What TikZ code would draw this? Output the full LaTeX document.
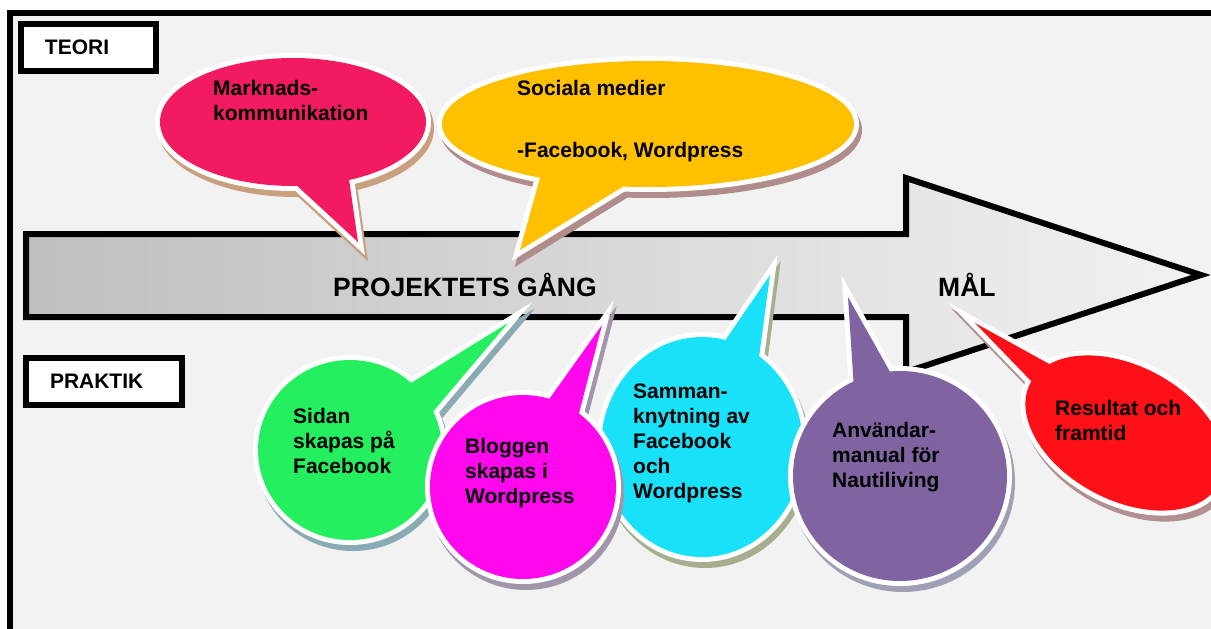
\documentclass[tikz,border=0pt]{standalone}
\usepackage{fontspec}
\setmainfont{Liberation Sans}
\usetikzlibrary{positioning, calc}

\definecolor{bggray}{HTML}{F2F2F2}
\definecolor{pinkfill}{HTML}{F31B5F}
\definecolor{pinkshadow}{HTML}{C8A07E}
\definecolor{yellowfill}{HTML}{FFC000}
\definecolor{yellowshadow}{HTML}{B08C8C}
\definecolor{greenfill}{HTML}{23EF5F}
\definecolor{greenshadow}{HTML}{8AAAB4}
\definecolor{magentafill}{HTML}{FF08EE}
\definecolor{magentashadow}{HTML}{A096AA}
\definecolor{cyanfill}{HTML}{19E1F9}
\definecolor{cyanshadow}{HTML}{A6AE90}
\definecolor{purplefill}{HTML}{8064A2}
\definecolor{purpleshadow}{HTML}{A0A0B4}
\definecolor{redfill}{HTML}{FF0F17}
\definecolor{redshadow}{HTML}{B09090}

% #1 fill, #2 shadow, #3 centre, #4 radii, #5 tilt, #6 tail
\newcommand{\speechbubble}[6]{%
    \begin{scope}[shift={(3,6)}]
        \filldraw[#2, line width=10pt, rotate around={#5:#3}] #3 ellipse [#4];
        \filldraw[#2, line width=10pt] #6 -- cycle;
    \end{scope}
    \draw[white, line width=10pt, rotate around={#5:#3}] #3 ellipse [#4];
    \draw[white, line width=10pt] #6 -- cycle;
    \fill[#1, rotate around={#5:#3}] #3 ellipse [#4];
    \fill[#1] #6 -- cycle;
}

\begin{document}
\begin{tikzpicture}[x=1pt, y=-1pt]
    \tikzstyle{labelbox} = [draw=black, line width=6pt, fill=white, inner xsep=24pt, inner ysep=0pt, minimum height=47pt, align=left, anchor=north west, font=\fontsize{21}{24}\selectfont\bfseries]
    \tikzstyle{bubbletext} = [anchor=north west, inner sep=0pt, align=left, font=\fontsize{21}{24.8}\selectfont\bfseries]
    \tikzstyle{arrowtext} = [anchor=base west, inner sep=0pt, font=\fontsize{26.5}{30}\selectfont\bfseries]
    \tikzstyle{bigarrow} = [draw=black, line width=6pt, left color=gray!50, right color=bggray]

    \useasboundingbox (0,0) rectangle (1211,629);
    \fill[white] (0,0) rectangle (1211,629);
    \fill[bggray] (10,13) rectangle (1211,629);
    \draw[line width=6pt] (10,629) -- (10,13) -- (1211,13);

    \node[labelbox, text width=87pt] (teori) at (18,21) {TEORI};
    \node[labelbox, text width=108pt] (praktik) at (23,355) {PRAKTIK};

    % the arrow
    \draw[bigarrow] (26,234) -- (906,234) -- (906,178) -- (1201,275) -- (906,372) -- (906,317) -- (26,317) -- cycle;
    \node[arrowtext] (gang) at (333,296) {PROJEKTETS GÅNG};
    \node[arrowtext] (mal) at (938,296) {MÅL};

    % teori
    \speechbubble{pinkfill}{pinkshadow}{(293,122)}{x radius=133, y radius=64}{0}{(280,170) -- (358,242) -- (347,165)}
    \node[bubbletext] (marknad) at (213,80) {Marknads-\\kommunikation};

    \speechbubble{yellowfill}{yellowshadow}{(648,124)}{x radius=206, y radius=63}{0}{(545,160) -- (520,250) -- (650,170)}
    \node[bubbletext] (sociala) at (517,80) {Sociala medier\\[37pt]-Facebook, Wordpress};

    % praktik
    \speechbubble{greenfill}{greenshadow}{(350,450)}{x radius=92, y radius=90}{0}{(390,396) -- (508,323) -- (420,427)}
    \node[bubbletext] (sidan) at (293,408) {Sidan\\skapas på\\Facebook};

    \speechbubble{cyanfill}{cyanshadow}{(702,447)}{x radius=101, y radius=110}{0}{(698,380) -- (770,275) -- (756,380)}
    \node[bubbletext] (samman) at (633,384) {Samman-\\knytning av\\Facebook\\och\\Wordpress};

    \speechbubble{magentafill}{magentashadow}{(523,487)}{x radius=93, y radius=92}{0}{(520,440) -- (602,325) -- (572,440)}
    \node[bubbletext] (bloggen) at (465,438) {Bloggen\\skapas i\\Wordpress};

    \speechbubble{purplefill}{purpleshadow}{(900,476)}{x radius=107, y radius=105}{0}{(856,420) -- (848,297) -- (917,420)}
    \node[bubbletext] (manual) at (832,422) {Användar-\\manual för\\Nautiliving};

    \speechbubble{redfill}{redshadow}{(1125,433)}{x radius=107, y radius=67}{-28}{(1080,381) -- (975,323) -- (1060,411)}
    \node[bubbletext] (resultat) at (1055,400) {Resultat och\\framtid};
\end{tikzpicture}
\end{document}
